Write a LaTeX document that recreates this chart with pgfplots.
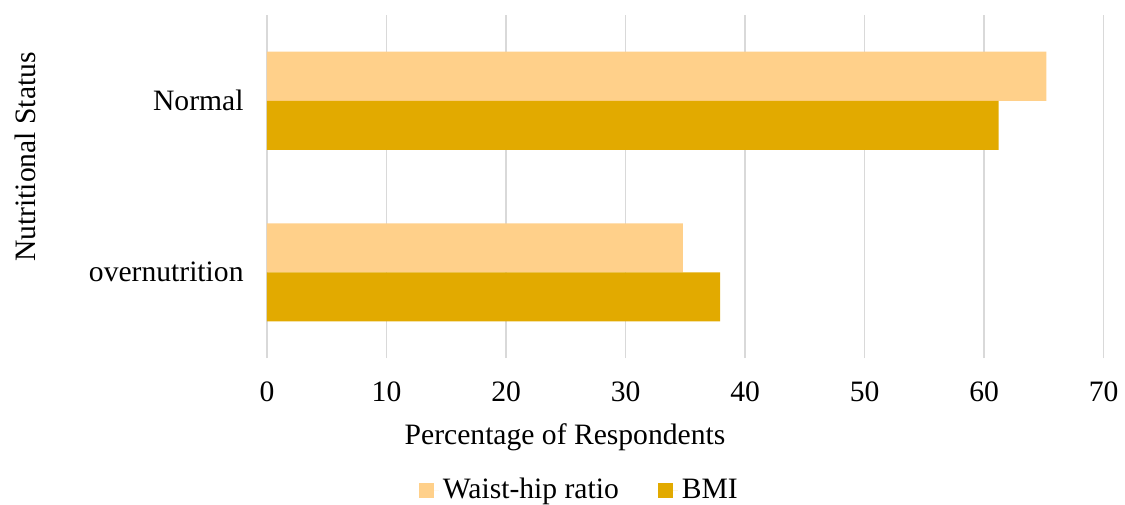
\documentclass[border=0pt]{standalone}
\usepackage{fontspec}
\setmainfont{Liberation Serif}
\usepackage{pgfplots}
\pgfplotsset{compat=1.18}
\definecolor{whr}{RGB}{255,208,138}
\definecolor{bmi}{RGB}{226,170,0}
\definecolor{gridgray}{RGB}{217,217,217}
\newcommand{\chartfont}{\fontsize{14.8}{17}\selectfont}
\begin{document}
\begin{tikzpicture}
\useasboundingbox (-133.5pt,-73pt) rectangle (429pt,179pt);
\begin{axis}[
  at={(0,0)}, anchor=south west,
  scale only axis, width=418.35pt, height=171.5pt,
  xbar, bar width=24.5pt,
  xmin=0, xmax=70, xtick={0,10,...,70},
  ymin=-0.5, ymax=1.5, ytick={0,1},
  yticklabels={overnutrition,Normal},
  axis line style={draw=none},
  major tick length=0pt,
  xmajorgrids, major grid style={gridgray, line width=0.75pt},
  tick label style={font=\chartfont},
  /pgf/number format/assume math mode=true,
  xticklabel style={yshift=-8.5pt},
  yticklabel style={xshift=-8.2pt},
  legend style={at={(rel axis cs:0.3745,-0.385)}, anchor=center,
    draw=none, fill=none, font=\chartfont,
    /tikz/every even column/.append style={column sep=17.5pt}},
  legend columns=2,
  legend image code/.code={%
    \path (0pt,0pt) -- (10pt,0pt);
    \fill[#1] (0pt,-3.75pt) rectangle (7.5pt,3.75pt);},
]
% waist-hip ratio sits above, BMI below each category line
\addplot[fill=whr, draw=none, bar shift=12.25pt] coordinates {(34.8,0) (65.2,1)};
\addplot[fill=bmi, draw=none, bar shift=-12.25pt] coordinates {(37.9,0) (61.2,1)};
\legend{Waist-hip ratio, BMI}
\end{axis}
\node[rotate=90, font=\chartfont] at (-121pt,100.5pt) {Nutritional Status};
\node[font=\chartfont] at (149pt,-39.5pt) {Percentage of Respondents};
\end{tikzpicture}
\end{document}
